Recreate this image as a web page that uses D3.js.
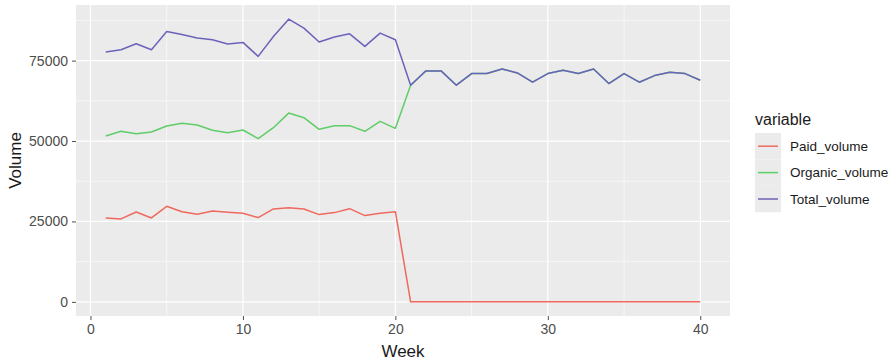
<!DOCTYPE html>
<html>
<head>
<meta charset="utf-8">
<script src="https://cdn.jsdelivr.net/npm/d3@7"></script>
<style>
  html, body { margin: 0; padding: 0; background: #ffffff; }
  svg { display: block; font-family: "Liberation Sans", Arial, sans-serif; }
</style>
</head>
<body>
<svg id="chart" width="896" height="361"></svg>
<script>
const weeks = d3.range(1, 41);
const paidVolume = [26090, 25780, 27950, 26090, 29710, 28040, 27230, 28260, 27850, 27540,
  26200, 28880, 29290, 28880, 27130, 27750, 28980, 26820, 27540, 28040,
  0, 0, 0, 0, 0, 0, 0, 0, 0, 0, 0, 0, 0, 0, 0, 0, 0, 0, 0, 0];
const organicVolume = [51570, 53020, 52300, 52810, 54670, 55500, 54980, 53330, 52610, 53430,
  50760, 54150, 58690, 57260, 53640, 54780, 54780, 53020, 56110, 53950,
  67360, 71800, 71800, 67360, 70970, 70970, 72420, 71180, 68290, 70970,
  72000, 71000, 72420, 67870, 70970, 68290, 70350, 71390, 70970, 68900];
const totalVolume = [77690, 78400, 80250, 78400, 84070, 83140, 82010, 81490, 80150, 80660,
  76330, 82520, 87900, 85110, 80770, 82320, 83340, 79420, 83550, 81490,
  67360, 71800, 71800, 67360, 70970, 70970, 72420, 71180, 68290, 70970,
  72000, 71000, 72420, 67870, 70970, 68290, 70350, 71390, 70970, 68900];
const seriesNames = ["Paid_volume", "Organic_volume", "Total_volume"];
const seriesColors = ["#f0695e", "#5fcd68", "#6b63bb"];
const xTicks = [0, 10, 20, 30, 40];
const xMinor = [5, 15, 25, 35];
const yTicks = [0, 25000, 50000, 75000];
const yMinor = [12500, 37500, 62500, 87500];

const seriesValues = [paidVolume, organicVolume, totalVolume];

const svg = d3.select("#chart");
const panel = { left: 76, top: 5, right: 730, bottom: 316 };

const x = d3.scaleLinear().domain([-0.95, 41.95]).range([panel.left, panel.right]);
const y = d3.scaleLinear().domain([-4395, 92295]).range([panel.bottom, panel.top]);

svg.append("rect")
  .attr("x", panel.left).attr("y", panel.top)
  .attr("width", panel.right - panel.left).attr("height", panel.bottom - panel.top)
  .attr("fill", "#ebebeb");

const grid = svg.append("g");
grid.selectAll(".xminor").data(xMinor).join("line")
  .attr("x1", d => x(d)).attr("x2", d => x(d))
  .attr("y1", panel.top).attr("y2", panel.bottom)
  .attr("stroke", "#ffffff").attr("stroke-width", 0.6);
grid.selectAll(".yminor").data(yMinor).join("line")
  .attr("y1", d => y(d)).attr("y2", d => y(d))
  .attr("x1", panel.left).attr("x2", panel.right)
  .attr("stroke", "#ffffff").attr("stroke-width", 0.6);
grid.selectAll(".xmajor").data(xTicks).join("line")
  .attr("x1", d => x(d)).attr("x2", d => x(d))
  .attr("y1", panel.top).attr("y2", panel.bottom)
  .attr("stroke", "#ffffff").attr("stroke-width", 1.2);
grid.selectAll(".ymajor").data(yTicks).join("line")
  .attr("y1", d => y(d)).attr("y2", d => y(d))
  .attr("x1", panel.left).attr("x2", panel.right)
  .attr("stroke", "#ffffff").attr("stroke-width", 1.2);

// Axes
const xAxis = d3.axisBottom(x).tickValues(xTicks).tickSize(4).tickPadding(4).tickFormat(d3.format("d"));
const gx = svg.append("g").attr("transform", `translate(0,${panel.bottom})`).call(xAxis);
gx.select(".domain").remove();
gx.selectAll(".tick line").attr("stroke", "#4d4d4d").attr("stroke-width", 1);
gx.selectAll(".tick text").attr("fill", "#4d4d4d").style("font-size", "14px")
  .style("font-family", "'Liberation Sans', Arial, sans-serif");

const yAxis = d3.axisLeft(y).tickValues(yTicks).tickSize(4).tickPadding(4).tickFormat(d3.format("d"));
const gy = svg.append("g").attr("transform", `translate(${panel.left},0)`).call(yAxis);
gy.select(".domain").remove();
gy.selectAll(".tick line").attr("stroke", "#4d4d4d").attr("stroke-width", 1);
gy.selectAll(".tick text").attr("fill", "#4d4d4d").style("font-size", "14px")
  .style("font-family", "'Liberation Sans', Arial, sans-serif");

// Lines
const line = d3.line().x((d, i) => x(weeks[i])).y(d => y(d));
seriesValues.forEach((vals, k) => {
  svg.append("path").datum(vals)
    .attr("fill", "none")
    .attr("stroke", seriesColors[k])
    .attr("stroke-width", 1.5)
    .attr("stroke-linejoin", "round")
    .attr("d", line);
});

// Axis titles
svg.append("text").attr("x", (panel.left + panel.right) / 2 + 0).attr("y", 357)
  .attr("text-anchor", "middle").style("font-size", "17px").attr("fill", "#1a1a1a")
  .text("Week");
svg.append("text").attr("transform", `translate(21,${(panel.top + panel.bottom) / 2}) rotate(-90)`)
  .attr("text-anchor", "middle").style("font-size", "17px").attr("fill", "#1a1a1a")
  .text("Volume");

// Legend
const lg = svg.append("g").attr("transform", "translate(755,0)");
lg.append("text").attr("x", 0).attr("y", 125).style("font-size", "16px").attr("fill", "#1a1a1a")
  .text("variable");
const keyH = 26.4, keyTop = 133;
lg.selectAll(".keybg").data(seriesNames).join("rect")
  .attr("x", 0).attr("y", (d, i) => keyTop + i * keyH)
  .attr("width", 26).attr("height", keyH)
  .attr("fill", "#ebebeb");
lg.selectAll(".keyline").data(seriesNames).join("line")
  .attr("x1", 3).attr("x2", 23)
  .attr("y1", (d, i) => keyTop + i * keyH + keyH / 2)
  .attr("y2", (d, i) => keyTop + i * keyH + keyH / 2)
  .attr("stroke", (d, i) => seriesColors[i]).attr("stroke-width", 1.5);
lg.selectAll(".keytext").data(seriesNames).join("text")
  .attr("x", 35).attr("y", (d, i) => keyTop + i * keyH + keyH / 2)
  .attr("dy", "0.35em")
  .style("font-size", "13.5px").attr("fill", "#1a1a1a")
  .text(d => d);
</script>
</body>
</html>
